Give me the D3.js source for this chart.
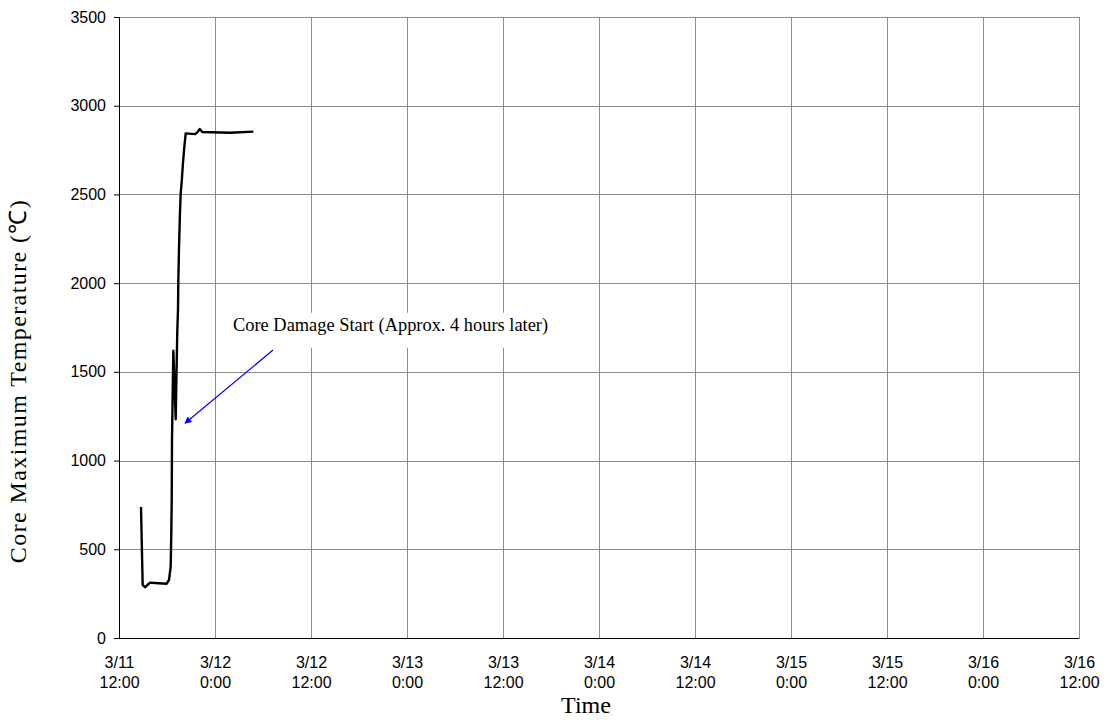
<!DOCTYPE html>
<html>
<head>
<meta charset="utf-8">
<script src="https://cdn.jsdelivr.net/npm/d3@7/dist/d3.min.js"></script>
<style>
  html, body { margin: 0; padding: 0; background: #fff; }
  svg { display: block; }
</style>
</head>
<body>
<div id="chart"></div>
<script>
// ---- Data (hours after 3/11 12:00, core maximum temperature in °C) ----
const hours = [2.75, 2.96, 3.25, 3.875, 4.5, 5.96, 6.25, 6.46, 6.54, 6.59, 6.625, 6.79, 7.09, 7.19, 7.29, 7.375, 7.41, 7.5, 7.625, 7.71, 7.84, 8.0, 8.19, 8.34, 9.5, 9.79, 10.09, 10.41, 13.875, 16.79];
const temps = [738, 299, 286, 312, 310, 306, 327, 402, 600, 778, 1116, 1619, 1233, 1500, 1736, 1849, 2000, 2200, 2400, 2506, 2572, 2680, 2780, 2844, 2840, 2850, 2869, 2852, 2848, 2854];

const xTickHours = [0, 12, 24, 36, 48, 60, 72, 84, 96, 108, 120];
const xTickDates = ["3/11", "3/12", "3/12", "3/13", "3/13", "3/14", "3/14", "3/15", "3/15", "3/16", "3/16"];
const xTickTimes = ["12:00", "0:00", "12:00", "0:00", "12:00", "0:00", "12:00", "0:00", "12:00", "0:00", "12:00"];
const yTicks = [0, 500, 1000, 1500, 2000, 2500, 3000, 3500];

const annotationText = "Core Damage Start (Approx. 4 hours later)";
const annotationTextAt = [14.25, 1732];   // [hours, °C]
const arrowFrom = [19.25, 1623];
const arrowTo = [8.25, 1210];

const xTitle = "Time";
const yTitle = "Core Maximum Temperature (℃)";

// ---- Layout ----
const W = 1108, H = 720;
const margin = { top: 17, right: 29, bottom: 82, left: 119 };
const iw = W - margin.left - margin.right;
const ih = H - margin.top - margin.bottom;

const svg = d3.select("#chart").append("svg")
  .attr("width", W).attr("height", H);

svg.append("defs").append("marker")
  .attr("id", "arrowhead")
  .attr("viewBox", "0 0 10 10")
  .attr("refX", 9).attr("refY", 5)
  .attr("markerWidth", 9).attr("markerHeight", 7)
  .attr("markerUnits", "userSpaceOnUse")
  .attr("orient", "auto")
  .append("path").attr("d", "M0,0 L10,5 L0,10 Z").attr("fill", "#0000ff");

const g = svg.append("g").attr("transform", `translate(${margin.left},${margin.top})`);

const x = d3.scaleLinear().domain([0, 120]).range([0, iw]);
const y = d3.scaleLinear().domain([0, 3500]).range([ih, 0]);

// Gridlines
g.append("g").attr("class", "grid-x")
  .selectAll("line").data(xTickHours).join("line")
  .attr("x1", d => Math.round(x(d)) + 0.5).attr("x2", d => Math.round(x(d)) + 0.5)
  .attr("y1", 0).attr("y2", ih)
  .attr("stroke", "#8c8c8c").attr("stroke-width", 1);

g.append("g").attr("class", "grid-y")
  .selectAll("line").data(yTicks).join("line")
  .attr("x1", 0).attr("x2", iw)
  .attr("y1", d => Math.round(y(d)) + 0.5).attr("y2", d => Math.round(y(d)) + 0.5)
  .attr("stroke", "#8c8c8c").attr("stroke-width", 1);

// Y axis
const yAxis = g.append("g")
  .call(d3.axisLeft(y).tickValues(yTicks).tickSize(5).tickPadding(8).tickFormat(d3.format("d")));
yAxis.select(".domain").attr("stroke", "#000");
yAxis.selectAll(".tick line").attr("stroke", "#000");
yAxis.selectAll(".tick text")
  .attr("font-family", "'Liberation Sans', Arial, sans-serif")
  .attr("font-size", 16).attr("fill", "#000");

// X axis
const xAxis = g.append("g").attr("transform", `translate(0,${ih})`)
  .call(d3.axisBottom(x).tickValues(xTickHours).tickSize(0).tickFormat(""));
xAxis.select(".domain").attr("stroke", "#000");
xAxis.selectAll(".tick").each(function(d, i) {
  const t = d3.select(this).append("text")
    .attr("font-family", "'Liberation Sans', Arial, sans-serif")
    .attr("font-size", 16).attr("fill", "#000")
    .attr("text-anchor", "middle");
  t.append("tspan").attr("x", 0).attr("y", 30).text(xTickDates[i]);
  t.append("tspan").attr("x", 0).attr("y", 50).text(xTickTimes[i]);
});

// Data line
const line = d3.line().x((d, i) => x(hours[i])).y((d, i) => y(temps[i]));
g.append("path")
  .datum(temps)
  .attr("d", line)
  .attr("fill", "none")
  .attr("stroke", "#000")
  .attr("stroke-width", 2.4)
  .attr("stroke-linejoin", "round");

// Annotation text box
const ax = x(annotationTextAt[0]), ay = y(annotationTextAt[1]);
const annG = g.append("g");
const boxRect = annG.append("rect").attr("fill", "#fff");
const annText = annG.append("text")
  .attr("x", ax).attr("y", ay)
  .attr("font-family", "'Liberation Serif', 'Times New Roman', serif")
  .attr("font-size", 18.4).attr("fill", "#000")
  .text(annotationText);
const bb = annText.node().getBBox();
boxRect.attr("x", bb.x - 8).attr("y", bb.y - 2)
  .attr("width", bb.width + 56).attr("height", bb.height + 14);

// Arrow
g.append("line")
  .attr("x1", x(arrowFrom[0])).attr("y1", y(arrowFrom[1]))
  .attr("x2", x(arrowTo[0])).attr("y2", y(arrowTo[1]))
  .attr("stroke", "#0000ff").attr("stroke-width", 1.2)
  .attr("marker-end", "url(#arrowhead)");

// Axis titles
svg.append("text")
  .attr("x", margin.left + iw / 2 - 13).attr("y", 713)
  .attr("text-anchor", "middle")
  .attr("font-family", "'Liberation Serif', 'Times New Roman', serif")
  .attr("font-size", 24).attr("fill", "#000")
  .text(xTitle);

svg.append("text")
  .attr("transform", `translate(26,381) rotate(-90)`)
  .attr("text-anchor", "middle")
  .attr("font-family", "'Liberation Serif', 'Times New Roman', serif")
  .attr("font-size", 24).attr("letter-spacing", 1.4).attr("fill", "#000")
  .text(yTitle);
</script>
</body>
</html>
